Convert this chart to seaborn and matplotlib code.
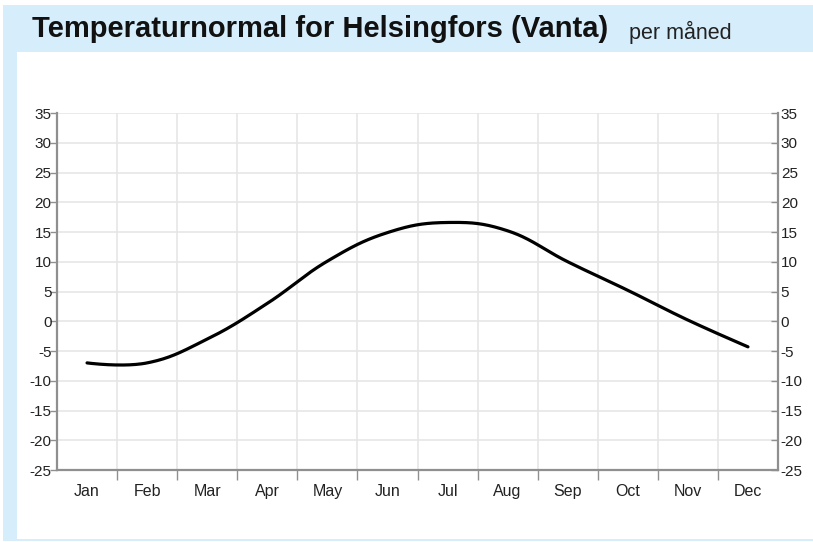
import numpy as np
import pandas as pd
import matplotlib
matplotlib.use("Agg")
import matplotlib.pyplot as plt
import seaborn as sns
from matplotlib.patches import Rectangle

months = ["Jan", "Feb", "Mar", "Apr", "May", "Jun", "Jul", "Aug", "Sep", "Oct", "Nov", "Dec"]
temps = [-7.0, -7.0, -3.0, 3.0, 10.1, 14.9, 16.6, 15.2, 10.0, 5.2, 0.2, -4.3]
y_ticks = list(range(-25, 40, 5))

title = "Temperaturnormal for Helsingfors (Vanta)"
subtitle = "per måned"

sns.set_theme(style="white")
plt.rcParams["font.family"] = ["Liberation Sans", "DejaVu Sans"]

W, H = 813, 542
fig = plt.figure(figsize=(W / 100, H / 100), dpi=100)
fig.patch.set_facecolor("white")

blue = "#D6EEFB"
def px_rect(x0, y0, x1, y1):
    fig.patches.append(Rectangle((x0 / W, 1 - y1 / H), (x1 - x0) / W, (y1 - y0) / H,
                                 transform=fig.transFigure, facecolor=blue,
                                 edgecolor="none", zorder=0))
px_rect(3, 5, W, 52)
px_rect(3, 52, 17, 541)
px_rect(3, 539, W, 541)

fig.text(32 / W, 1 - 29 / H, title, fontsize=21, fontweight="bold",
         color="#111111", va="center", ha="left")
fig.text(629 / W, 1 - 32 / H, subtitle, fontsize=15.5, color="#222222",
         va="center", ha="left")

ax = fig.add_axes([57 / W, 1 - 470 / H, (778 - 57) / W, (470 - 113) / H])
ax.set_facecolor("white")

# Spline smoothing (Highcharts-style Bezier control points) through the monthly values
x = np.arange(len(months), dtype=float)
y = np.array(temps, dtype=float)
n = len(x)
lc = [(x[i], y[i]) for i in range(n)]
rc = [(x[i], y[i]) for i in range(n)]
for i in range(1, n - 1):
    s, d = 1.5, 2.5
    lx = (s * x[i] + x[i - 1]) / d
    ly = (s * y[i] + y[i - 1]) / d
    rx = (s * x[i] + x[i + 1]) / d
    ry = (s * y[i] + y[i + 1]) / d
    corr = ((ry - ly) * (rx - x[i])) / (rx - lx) + y[i] - ry
    lc[i] = (lx, ly + corr)
    rc[i] = (rx, ry + corr)
xs, ys = [], []
for i in range(n - 1):
    t = np.linspace(0, 1, 40, endpoint=(i == n - 2))
    p0 = np.array([x[i], y[i]]); p1 = np.array(rc[i])
    p2 = np.array(lc[i + 1]); p3 = np.array([x[i + 1], y[i + 1]])
    b = ((1 - t) ** 3)[:, None] * p0 + (3 * (1 - t) ** 2 * t)[:, None] * p1 \
        + (3 * (1 - t) * t ** 2)[:, None] * p2 + (t ** 3)[:, None] * p3
    xs.append(b[:, 0]); ys.append(b[:, 1])
curve = pd.DataFrame({"x": np.concatenate(xs), "y": np.concatenate(ys)})
sns.lineplot(data=curve, x="x", y="y", ax=ax, color="black", linewidth=2.3,
             zorder=5, sort=False)

ax.set_xlim(-0.5, len(months) - 0.5)
ax.set_ylim(min(y_ticks), max(y_ticks))
ax.set_xlabel("")
ax.set_ylabel("")

grid_c = "#E6E6E6"
for bnd in np.arange(0.5, len(months) - 0.5, 1):
    ax.axvline(bnd, color=grid_c, linewidth=1.2, zorder=1)
for yt in y_ticks:
    ax.axhline(yt, color=grid_c, linewidth=1.2, zorder=1)

ax.set_yticks(y_ticks)
ax.set_yticklabels([str(v) for v in y_ticks])
ax.set_xticks(np.arange(0.5, len(months) - 0.5, 1))
ax.set_xticklabels([])
ax.set_xticks(np.arange(len(months)), minor=True)
ax.set_xticklabels(months, minor=True)

axis_c = "#8F8F8F"
ax.spines["top"].set_visible(False)
for s in ["left", "bottom", "right"]:
    ax.spines[s].set_visible(True)
    ax.spines[s].set_color(axis_c)
    ax.spines[s].set_linewidth(1.6)

ax.tick_params(axis="y", which="major", direction="out", length=5, width=1,
               color=axis_c, pad=-1, labelsize=11, labelcolor="#222222",
               left=True, right=False)
ax.tick_params(axis="x", which="major", direction="out", length=7, width=1,
               color=axis_c, bottom=True)
ax.tick_params(axis="x", which="minor", length=0, pad=10, labelsize=11.5,
               labelcolor="#222222")

ax2 = ax.twinx()
ax2.set_ylim(ax.get_ylim())
ax2.set_yticks(y_ticks)
ax2.set_yticklabels([str(v) for v in y_ticks])
ax2.tick_params(axis="y", direction="in", length=5, width=1, color=axis_c,
                pad=2, labelsize=11, labelcolor="#222222")
for s in ["top", "left", "bottom", "right"]:
    ax2.spines[s].set_visible(False)
ax2.grid(False)

fig.savefig("out.png", dpi=100, facecolor=fig.get_facecolor())
